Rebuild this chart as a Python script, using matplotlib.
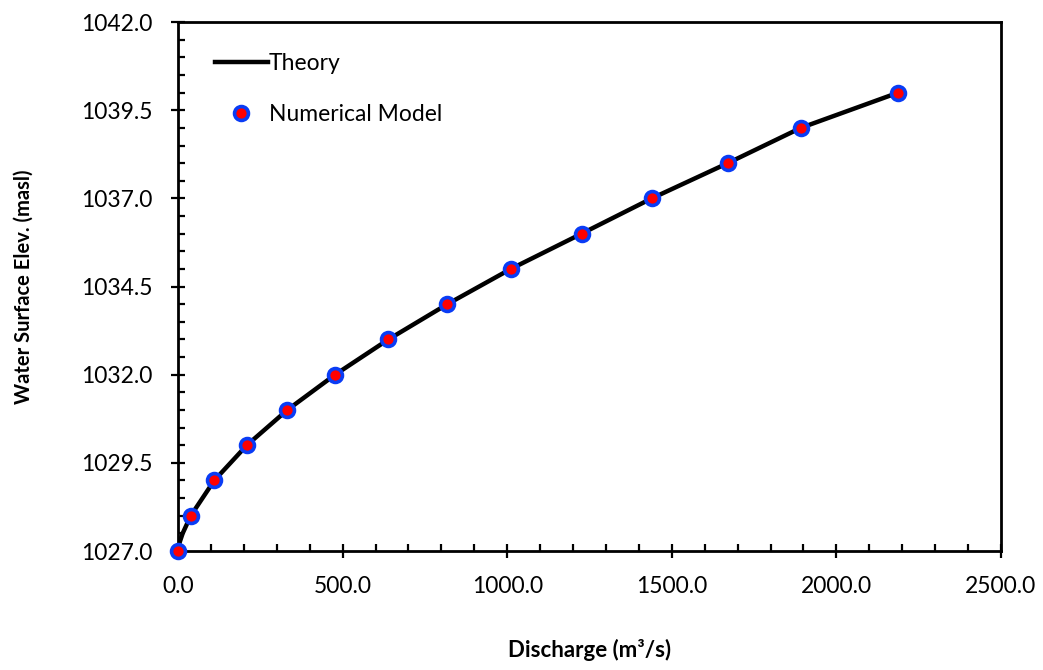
import numpy as np
import matplotlib
matplotlib.use("Agg")
import matplotlib.pyplot as plt
from matplotlib.ticker import MultipleLocator, FixedLocator, FormatStrFormatter

plt.rcParams['font.family'] = ['Lato', 'DejaVu Sans']

# numerical model results
q_model = [0, 38.6, 110, 209, 332, 477, 639, 818, 1011, 1226, 1439, 1670, 1892, 2188]
wse_model = [1027, 1028, 1029, 1030, 1031, 1032, 1033, 1034, 1035, 1036, 1037, 1038, 1039, 1040]

# theory curve
q_theory = [0, 5, 14, 38.6, 110, 209, 332, 477, 639, 818, 1011, 1226, 1439, 1670, 1892, 2188]
wse_theory = [1027, 1027.25, 1027.5, 1028, 1029, 1030, 1031, 1032, 1033, 1034, 1035, 1036,
              1037, 1038, 1039, 1040]

x_ticks = [0, 500, 1000, 1500, 2000, 2500]
y_ticks = [1027, 1029.5, 1032, 1034.5, 1037, 1039.5, 1042]

fig = plt.figure(figsize=(10.43, 6.70), dpi=100)
ax = fig.add_axes([0.1707, 0.1776, 0.9597 - 0.1707, 0.967 - 0.1776])

ax.plot(q_theory, wse_theory, color='black', lw=3.2, label='Theory', zorder=2)
ax.plot(q_model, wse_model, ls='none', marker='o', ms=10, mfc='#ff0000', mec='#0a3cf5',
        mew=2.6, label='Numerical Model', zorder=3, clip_on=False)

ax.set_xlim(0, 2500)
ax.set_ylim(1027, 1042)
ax.xaxis.set_major_locator(FixedLocator(x_ticks))
ax.xaxis.set_minor_locator(MultipleLocator(100))
ax.yaxis.set_major_locator(FixedLocator(y_ticks))
ax.yaxis.set_minor_locator(MultipleLocator(0.5))
ax.xaxis.set_major_formatter(FormatStrFormatter('%.1f'))
ax.yaxis.set_major_formatter(FormatStrFormatter('%.1f'))

ax.tick_params(which='major', direction='inout', length=10, width=1.6, labelsize=16.5)
ax.tick_params(axis='x', which='major', pad=13)
ax.tick_params(axis='y', which='major', pad=13.5)
ax.tick_params(which='minor', direction='in', length=5, width=1.6)
for s in ax.spines.values():
    s.set_linewidth(2)

ax.set_xlabel('Discharge (m³/s)', fontsize=16, fontweight='bold', labelpad=30)
ax.set_ylabel('Water Surface Elev. (masl)', fontsize=14.5, fontweight='bold', labelpad=34)

ax.legend(loc='upper left', bbox_to_anchor=(0.02, 0.98), frameon=False, fontsize=16.5,
          handlelength=2.3, handletextpad=0.05, labelspacing=1.3)

fig.savefig('out.png', dpi=100)
